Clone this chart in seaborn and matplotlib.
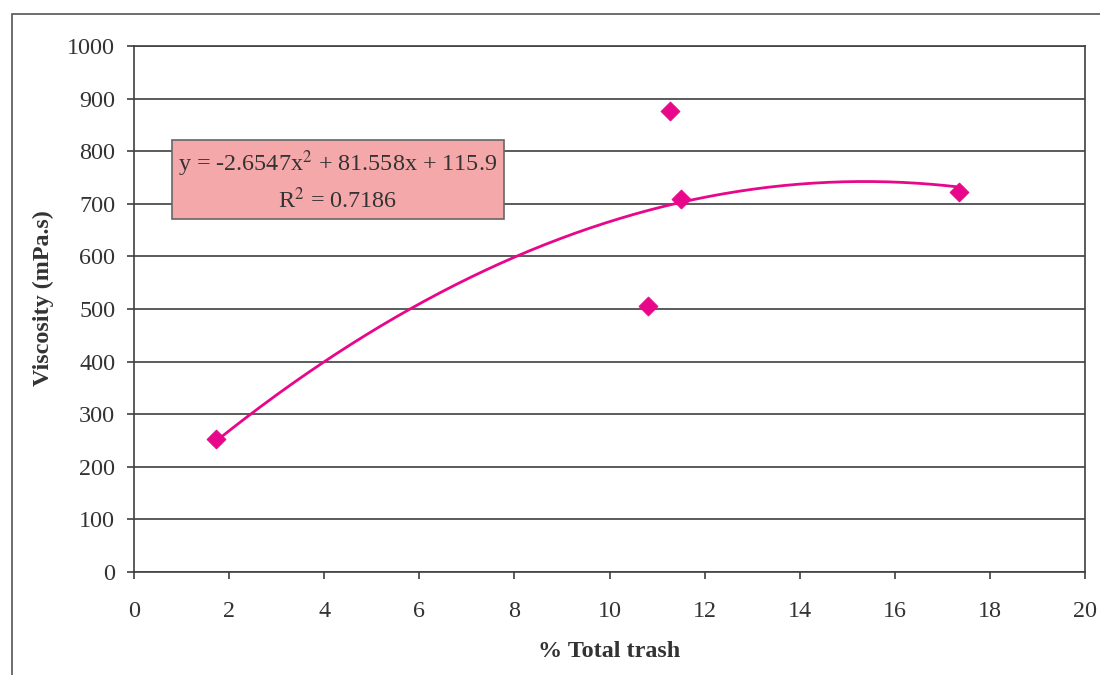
import numpy as np
import pandas as pd
import matplotlib
matplotlib.use("Agg")
import matplotlib.pyplot as plt
import seaborn as sns
from matplotlib.patches import Rectangle

# Measured samples
trash_pct = [1.73, 10.80, 11.27, 11.50, 17.35]
viscosity = [253, 505, 876, 710, 723]

# Second-order polynomial trendline coefficients (a*x^2 + b*x + c) and fit quality
poly_a, poly_b, poly_c = -2.6547, 81.558, 115.9
r_squared = 0.7186

x_ticks = [0, 2, 4, 6, 8, 10, 12, 14, 16, 18, 20]
y_ticks = [0, 100, 200, 300, 400, 500, 600, 700, 800, 900, 1000]

sns.set_style("white")
plt.rcParams["font.family"] = ["Liberation Serif", "DejaVu Serif"]
plt.rcParams["mathtext.fontset"] = "stix"

pink = "#E8068A"
grey = "#404040"
text_col = "#333333"

fig = plt.figure(figsize=(11, 6.75), dpi=100)
ax = fig.add_axes([0.1218, 0.1526, 0.8646, 0.7793])

# Outer chart frame
fig.patches.append(Rectangle((0.0105, -0.2), 1.2, 0.2 + 0.9795, transform=fig.transFigure,
                             fill=False, edgecolor="#555555", linewidth=1.2))

df = pd.DataFrame({"trash": trash_pct, "visc": viscosity})
xs = np.linspace(min(trash_pct), max(trash_pct), 200)
trend = pd.DataFrame({"trash": xs, "visc": poly_a * xs**2 + poly_b * xs + poly_c})

sns.lineplot(data=trend, x="trash", y="visc", ax=ax, color=pink, linewidth=2.0, zorder=3)
sns.scatterplot(data=df, x="trash", y="visc", ax=ax, marker="D", s=95, color=pink,
                edgecolor=pink, linewidth=0.5, zorder=4)

ax.set_xlim(0, 20)
ax.set_ylim(0, 1000)
ax.set_xticks(x_ticks)
ax.set_yticks(y_ticks)
ax.set_xticklabels([str(t) for t in x_ticks])
ax.set_yticklabels([str(t) for t in y_ticks])
ax.yaxis.grid(True, color=grey, linewidth=1.2)
ax.xaxis.grid(False)
ax.set_axisbelow(True)
for s in ax.spines.values():
    s.set_visible(True)
    s.set_color(grey)
    s.set_linewidth(1.2)
ax.tick_params(axis="both", which="major", direction="out", length=5, width=1.2,
               color=grey, labelsize=17.4, labelcolor=text_col, bottom=True, left=True)
ax.tick_params(axis="y", pad=8.5)
ax.tick_params(axis="x", pad=16)

ax.set_xlabel("% Total trash", fontsize=17.4, fontweight="bold", color=text_col)
ax.set_ylabel("Viscosity (mPa.s)", fontsize=17.4, fontweight="bold", color=text_col)
ax.xaxis.set_label_coords(0.5, (572 - 652) / 526, transform=ax.transAxes)
ax.yaxis.set_label_coords((43 - 134) / 951, (572 - 298) / 526, transform=ax.transAxes)
ax.xaxis.label.set_va("center")
ax.yaxis.label.set_va("center")

# Trendline equation box
box_text = (f"y = {poly_a}x$^{{2}}$ + {poly_b}x + {poly_c}\n"
            f"R$^{{2}}$ = {r_squared}")
ax.text(4.29, 744, box_text, fontsize=17.4, color=text_col, ha="center", va="center",
        linespacing=1.4,
        bbox=dict(boxstyle="square,pad=0.25", facecolor="#F5A8AA", edgecolor="#666666",
                  linewidth=1.2), zorder=5)

fig.savefig("out.png", dpi=100)
